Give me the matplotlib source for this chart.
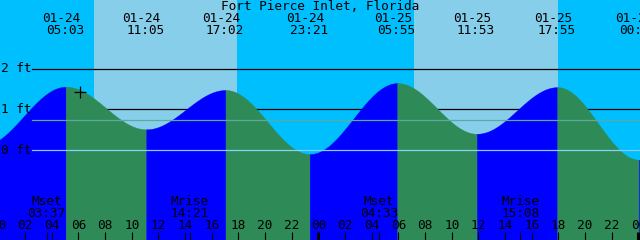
import numpy as np
import matplotlib
matplotlib.use("Agg")
import matplotlib.pyplot as plt

# ---- data ----
title = "Fort Pierce Inlet, Florida"
# tide extremes (hours from 01-24 00:00), label date/time, height ft
tide_hours = [-1.25, 5.05, 11.083, 17.033, 23.35, 29.917, 35.883, 41.917, 48.05, 54.3]
tide_dates = ["01-23", "01-24", "01-24", "01-24", "01-24", "01-25", "01-25", "01-25", "01-26", "01-26"]
tide_clock = ["22:45", "05:03", "11:05", "17:02", "23:21", "05:55", "11:53", "17:55", "00:03", "06:18"]
tide_ft = [0.10, 1.56, 0.51, 1.48, -0.10, 1.65, 0.40, 1.55, -0.24, 1.50]
shown_labels = [1, 2, 3, 4, 5, 6, 7, 8]

# daylight intervals (hours)
sunrise = [7.17, 31.17]
sunset = [17.87, 41.97]

# moon events
moon_names = ["Mset", "Mrise", "Mset", "Mrise"]
moon_clock = ["03:37", "14:21", "04:33", "15:08"]
moon_hours = [3.617, 14.35, 28.55, 39.133]

ref_levels_black = [1.0, 2.0]
ref_level_mean = 0.73
ref_level_zero = 0.0
ft_labels = ["2 ft", "1 ft", "0 ft"]
ft_values = [2.0, 1.0, 0.0]

now_hour, now_ft = 6.12, 1.44

hour_ticks = list(range(0, 49, 2))

# ---- figure ----
W, H = 640, 240
fig = plt.figure(figsize=(W / 100, H / 100), dpi=100)
ax = fig.add_axes([0, 0, 1, 1])
XMIN, XMAX = 0.12, 48.12
YMIN, YMAX = -2.22, 3.70
ax.set_xlim(XMIN, XMAX)
ax.set_ylim(YMIN, YMAX)
ax.axis("off")
ax.add_patch(plt.Rectangle((0, 0), 1, 1, transform=ax.transAxes,
                           color="#00BFFF", zorder=0))
for a, b in zip(sunrise, sunset):
    ax.axvspan(a, b, color="#87CEEB", lw=0, zorder=0.5)

FONT = dict(family="DejaVu Sans Mono", fontsize=9.2, color="black")
xt = ax.get_xaxis_transform()
yt = ax.get_yaxis_transform()
PXH = (XMAX - XMIN) / W  # hours per pixel

# black reference lines (behind tide fill)
for lv in ref_levels_black:
    ax.axhline(lv, xmin=32 / W, xmax=1, color="black", lw=0.9, zorder=1)

# tide curve
T = np.array(tide_hours)
Hh = np.array(tide_ft)
for i in range(len(T) - 1):
    t = np.linspace(T[i], T[i + 1], 200)
    v = Hh[i] + (Hh[i + 1] - Hh[i]) * (1 - np.cos(np.pi * (t - T[i]) / (T[i + 1] - T[i]))) / 2
    col = "#0000FF" if Hh[i + 1] > Hh[i] else "#2E8B57"
    ax.fill_between(t, v, YMIN, color=col, lw=0.3, ec=col, zorder=2)

ax.axhline(ref_level_mean, xmin=32 / W, xmax=1, color="#5FA8A0", lw=0.9, zorder=3)
ax.axhline(ref_level_zero, xmin=32 / W, xmax=1, color="#87CEFA", lw=0.9, zorder=3)

for lab, val in zip(ft_labels, ft_values):
    ax.text(1 / W, val, lab, transform=yt, ha="left", va="center", zorder=4, **FONT)

# title and tide labels
ax.text(0.5, 1 - 6.5 / H, title, transform=ax.transAxes, ha="center", va="center", zorder=4, **FONT)
for i in shown_labels:
    ax.text(tide_hours[i] - 4.5 * PXH, 1 - 18 / H, tide_dates[i], transform=xt,
            ha="center", va="center", zorder=4, **FONT)
    ax.text(tide_hours[i] - 1.0 * PXH, 1 - 30 / H, tide_clock[i], transform=xt,
            ha="center", va="center", zorder=4, **FONT)

# now marker
ax.plot([now_hour], [now_ft], marker="+", ms=9, mew=0.9, color="black", zorder=5)

# hour ticks
for h in hour_ticks:
    ax.text(h, 14.5 / H, "%02d" % (h % 24), transform=xt, ha="center", va="center", zorder=4, **FONT)
    lw = 2.2 if h % 24 == 0 else 0.8
    ax.vlines(h, 0, 8 / H, transform=xt, color="black", lw=lw, zorder=4)

# moon events
for name, clk, h in zip(moon_names, moon_clock, moon_hours):
    ax.text(h, 38.5 / H, name, transform=xt, ha="center", va="center", zorder=4, **FONT)
    ax.text(h, 26.5 / H, clk, transform=xt, ha="center", va="center", zorder=4, **FONT)
    ax.vlines(h, 0, 8 / H, transform=xt, color="black", lw=0.8, zorder=4)

fig.savefig("out.png", dpi=100)
